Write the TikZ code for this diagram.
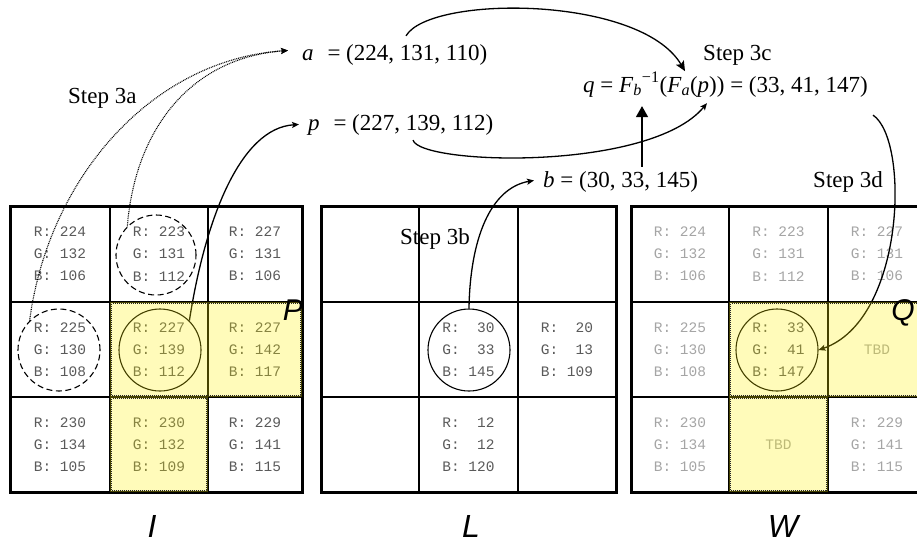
\documentclass[tikz,border=0pt]{standalone}
\usepackage{fontspec}
\setmainfont{Liberation Serif}
\newfontfamily\monof{Liberation Mono}
\newfontfamily\sansf{Liberation Sans}
\usetikzlibrary{arrows.meta,calc}
\definecolor{txtgray}{RGB}{90,90,90}
\definecolor{lightgray}{RGB}{165,165,165}
\newcommand{\rgbcell}[3]{R:\ \makebox[1.8em][r]{#1}\\G:\ \makebox[1.8em][r]{#2}\\B:\ \makebox[1.8em][r]{#3}}
\begin{document}
\begin{tikzpicture}[x=1pt,y=-1pt,
  celltxt/.style={font=\monof\fontsize{14.5}{22.2}\selectfont, align=left, text=txtgray, inner sep=0},
  faint/.style={celltxt, text=lightgray},
  gridline/.style={line width=1.4pt},
  gridborder/.style={line width=3pt},
  lbl/.style={font=\fontsize{23}{27}\selectfont, inner sep=0},
  biglbl/.style={font=\sansf\itshape\fontsize{32}{32}\selectfont, inner sep=0},
  circ/.style={circle, draw, minimum size=82pt, inner sep=0, line width=1.1pt},
  dcirc/.style={circ, dash pattern=on 6pt off 3.5pt},
  conn/.style={line width=1.3pt, -{Stealth[length=7pt,width=6pt,inset=1.5pt]}},
  dotconn/.style={conn, dash pattern=on 0.9pt off 0.9pt, line width=1.1pt},
  hilite/.style={fill=yellow, fill opacity=0.27},
  hiborder/.style={draw=black!85, line width=1.2pt, dash pattern=on 1pt off 1pt}]
\useasboundingbox (0,0) rectangle (917,542);
\clip (0,0) rectangle (917,542);

% ---------- grid I ----------
\node[celltxt] (i11) at (60,254) {\rgbcell{224}{132}{106}};
\node[celltxt] (i12) at (159,254) {\rgbcell{223}{131}{112}};
\node[celltxt] (i13) at (255,254) {\rgbcell{227}{131}{106}};
\node[celltxt] (i21) at (60,349.5) {\rgbcell{225}{130}{108}};
\node[celltxt] (i22) at (159,349.5) {\rgbcell{227}{139}{112}};
\node[celltxt] (i23) at (255,349.5) {\rgbcell{227}{142}{117}};
\node[celltxt] (i31) at (60,444.5) {\rgbcell{230}{134}{105}};
\node[celltxt] (i32) at (159,444.5) {\rgbcell{230}{132}{109}};
\node[celltxt] (i33) at (255,444.5) {\rgbcell{229}{141}{115}};
\draw[gridline] (110,206) -- (110,492) (208,206) -- (208,492)
                (10,302) -- (302,302) (10,397) -- (302,397);
\draw[gridborder] (10,206) rectangle (302,492);

% ---------- grid L ----------
\node[celltxt] (l22) at (468.5,349.5) {\rgbcell{30}{33}{145}};
\node[celltxt] (l23) at (567,349.5) {\rgbcell{20}{13}{109}};
\node[celltxt] (l32) at (468.5,444.5) {\rgbcell{12}{12}{120}};
\draw[gridline] (419,206) -- (419,492) (518,206) -- (518,492)
                (321,302) -- (616,302) (321,397) -- (616,397);
\draw[gridborder] (321,206) rectangle (616,492);
\node[lbl, anchor=base west] (s3b) at (400,244) {Step 3b};

% ---------- grid W ----------
\node[faint] (w11) at (680,254) {\rgbcell{224}{132}{106}};
\node[faint] (w12) at (778.5,254) {\rgbcell{223}{131}{112}};
\node[faint] (w13) at (877,254) {\rgbcell{227}{131}{106}};
\node[faint] (w21) at (680,349.5) {\rgbcell{225}{130}{108}};
\node[celltxt] (w22) at (778.5,349.5) {\rgbcell{33}{41}{147}};
\node[faint] (w23) at (877,349.5) {TBD};
\node[faint] (w31) at (680,444.5) {\rgbcell{230}{134}{105}};
\node[faint] (w32) at (778.5,444.5) {TBD};
\node[faint] (w33) at (877,444.5) {\rgbcell{229}{141}{115}};
\draw[gridline] (729,206) -- (729,492) (828,206) -- (828,492)
                (631,302) -- (926,302) (631,397) -- (926,397);
\draw[gridborder] (631,206) rectangle (926,492);

% ---------- circles ----------
\node[dcirc, minimum size=80pt] (ci12) at (156,255) {};
\node[dcirc] (ci21) at (59,350) {};
\node[circ] (ci22) at (160,350) {};
\node[circ] (cl22) at (469,350) {};
\node[circ] (cw22) at (777,350) {};

% ---------- formula texts ----------
\node[lbl, anchor=base west] (A) at (302,60) {\textit{a}\hspace{0.6em}= (224, 131, 110)};
\node[lbl, anchor=base west] (P) at (308,130) {\textit{p}\hspace{0.6em}= (227, 139, 112)};
\node[lbl, anchor=base west] (B) at (543,187) {\textit{b} = (30, 33, 145)};
\node[lbl, anchor=base west] (Q) at (583,92) {\textit{q} = \textit{F}\textsubscript{\textit{b}}\textsuperscript{−1}(\textit{F}\textsubscript{\textit{a}}(\textit{p})) = (33, 41, 147)};
\node[lbl, anchor=base west] (s3a) at (68,103) {Step 3a};
\node[lbl, anchor=base west] (s3c) at (703,60) {Step 3c};
\node[lbl, anchor=base west] (s3d) at (813,187) {Step 3d};

% ---------- connectors ----------
\draw[dotconn] (ci21.135) .. controls (48,180) and (150,60) .. ($(A.west)+(-14,-4)$);
\draw[dotconn] (ci12.135) .. controls (135,130) and (190,58) .. ($(A.west)+(-14,-4)$);
\draw[conn] (ci22.45) .. controls (205,220) and (240,128) .. ($(P.west)+(-9,0)$);
\draw[conn, -{Stealth[length=10pt,width=9pt,inset=2pt]}] ($(A.north west)+(104,-8)$) .. controls (430,-5) and (640,-5) .. ($(Q.north west)+(102,-1)$);
\draw[conn] ($(P.south west)+(105,5)$) .. controls (420,165) and (650,172) .. ($(Q.south west)+(124,6)$);
\draw[conn] (cl22.north) .. controls (470,240) and (490,188) .. ($(B.west)+(-9,-1)$);
\draw[line width=1.5pt, -{Triangle[length=11pt,width=12pt]}] ($(B.north west)+(99,-4)$) -- ($(Q.south west)+(59,9)$);
\draw[conn] ($(Q.south east)+(5,18)$) .. controls (910,140) and (905,320) .. (cw22.east);

% ---------- highlighted regions ----------
\fill[hilite] (110,302) rectangle (302,397);
\fill[hilite] (110,397) rectangle (208,492);
\draw[hiborder] (111.5,303.5) rectangle (300.5,395.5);
\draw[hiborder] (111.5,398.5) rectangle (206.5,490.5);
\fill[hilite] (729,302) rectangle (926,397);
\fill[hilite] (729,397) rectangle (828,492);
\draw[hiborder] (730.5,303.5) rectangle (924.5,395.5);
\draw[hiborder] (730.5,398.5) rectangle (826.5,490.5);

% ---------- region / image labels ----------
\node[biglbl, anchor=base east, font=\sansf\itshape\fontsize{30}{30}\selectfont] (Plbl) at (303,320) {P};
\node[biglbl, anchor=base east, font=\sansf\itshape\fontsize{30}{30}\selectfont] (Qlbl) at (915,320) {Q};
\node[biglbl, anchor=base] (Ilbl) at (152,537) {I};
\node[biglbl, anchor=base] (Llbl) at (471,537) {L};
\node[biglbl, anchor=base] (Wlbl) at (783,537) {W};
\end{tikzpicture}
\end{document}
